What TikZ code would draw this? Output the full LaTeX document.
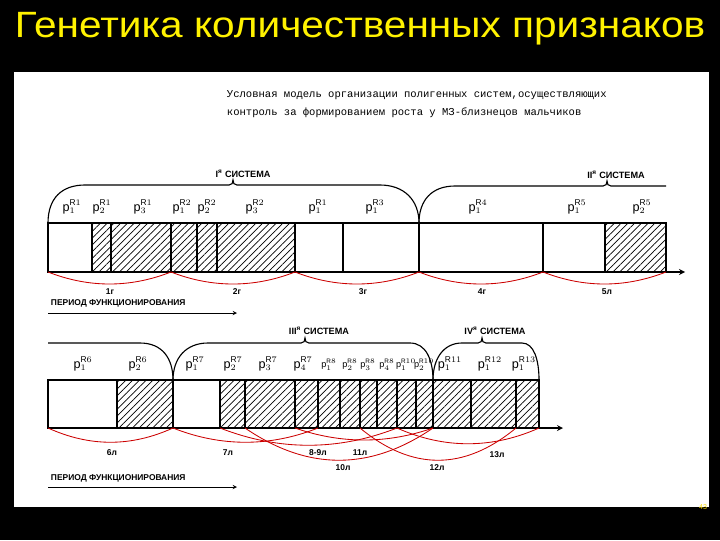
\documentclass[tikz,border=0pt]{standalone}
\usepackage{fontspec}
\setmainfont{Liberation Sans}
\newfontfamily\monofont{Liberation Mono}
\usetikzlibrary{patterns.meta}

\newcommand{\gen}[2]{$\mathrm{p}_{#1}^{\mathrm{R}#2}$}

\tikzset{
  bar/.style={draw, line width=0.9pt},
  hatch/.style={pattern={Lines[angle=45,distance=3.4pt,line width=0.5pt]}},
  arc/.style={red!80!black, line width=0.6pt},
  env/.style={line width=0.8pt},
  lab/.style={font=\bfseries\fontsize{6}{7}\selectfont},
  gene/.style={font=\fontsize{9}{10}\selectfont, inner sep=0pt},
  small gene/.style={font=\fontsize{6.5}{7}\selectfont, inner sep=0pt},
}

\begin{document}
\begin{tikzpicture}[x=0.025cm, y=-0.025cm, >=stealth]
  % Vẽ nền
  \fill[black] (0,0) rectangle (720,540);
  \fill[white] (14,72) rectangle (709,507);
  \node[yellow, font=\fontsize{26}{30}\selectfont] (title) at (360,29) {\scalebox{1.11}[1]{Генетика количественных признаков}};
  \node[yellow!80!orange, font=\fontsize{5}{6}\selectfont] (num) at (703,507) {43};
  \node[anchor=west, font=\monofont\fontsize{7.5}{9}\selectfont] (cap1) at (222,95) {Условная модель организации полигенных систем,осуществляющих};
  \node[anchor=west, font=\monofont\fontsize{7.5}{9}\selectfont] (cap2) at (222,113) {контроль за формированием роста у МЗ-близнецов мальчиков};

  % Hàng 1
  \foreach \a/\b/\h in {48/92/0, 92/111/1, 111/171/1, 171/197/1, 197/217/1, 217/295/1,
                        295/343/0, 343/419/0, 419/543/0, 543/605/0, 605/666/1}{
    \ifnum\h=1 \fill[hatch] (\a,223) rectangle (\b,272); \fi
    \draw[bar] (\a,223) rectangle (\b,272);
  }
  \foreach \x in {48,171,295,419,543,666}
    \coordinate (u\x) at (\x,272);
  \coordinate (ax1) at (685,272);
  \draw[bar,->] (u48) -- (ax1);
  \foreach \p/\q in {u48/u171, u171/u295, u295/u419, u419/u543, u543/u666}
    \draw[arc] (\p) .. controls +(41,16) and +(-41,16) .. (\q);
  \foreach \x/\t [count=\i] in {110/1г, 237/2г, 363/3г, 482/4г, 607/5л}
    \node[lab] (y\i) at (\x,292) {\t};
  \foreach \x/\s/\r [count=\i] in {72/1/1, 102/2/1, 143/3/1, 182/1/2, 207/2/2, 255/3/2,
                                   318/1/1, 375/1/3, 478/1/4, 577/1/5, 642/2/5}
    \node[gene] (g\i) at (\x,207) {\gen{\s}{\r}};
  % Hệ thống I, II
  \draw[env] (48,223) .. controls (48,198) and (62,185) .. (85,185) -- (229,185)
    .. controls (232,185) and (233,183) .. (233,180) .. controls (233,183) and (234,185) .. (237,185)
    -- (380,185) .. controls (404,185) and (419,200) .. (419,223);
  \draw[env] (419,223) .. controls (419,200) and (432,186) .. (455,186) -- (603,186)
    .. controls (606,186) and (607,184) .. (607,181) .. controls (607,184) and (608,186) .. (611,186)
    -- (666,186);
  \node[lab, font=\bfseries\fontsize{6.5}{7}\selectfont] (sys1) at (243,174) {I\textsuperscript{я} СИСТЕМА};
  \node[lab, font=\bfseries\fontsize{6.5}{7}\selectfont] (sys2) at (616,175) {II\textsuperscript{я} СИСТЕМА};
  \node[lab, anchor=west] (per1) at (46,303) {ПЕРИОД ФУНКЦИОНИРОВАНИЯ};
  \coordinate (ps1) at (48,313);
  \coordinate (pe1) at (237,313);
  \draw[->] (ps1) -- (pe1);

  % Hàng 2
  \foreach \a/\b/\h in {48/117/0, 117/173/1, 173/220/0, 220/245/1, 245/295/1, 295/318/1,
                        318/340/1, 340/360/1, 360/377/1, 377/397/1, 397/416/1, 416/433/1,
                        433/471/1, 471/516/1, 516/539/1}{
    \ifnum\h=1 \fill[hatch] (\a,380) rectangle (\b,428); \fi
    \draw[bar] (\a,380) rectangle (\b,428);
  }
  \foreach \x in {48,173,220,245,295,318,360,397,433,516,539}
    \coordinate (w\x) at (\x,428);
  \coordinate (ax2) at (563,428);
  \draw[bar,->] (w48) -- (ax2);
  \foreach \p/\q/\s/\h in {w48/w173/42/19, w173/w318/48/19, w220/w397/59/23, w245/w433/63/43,
                           w295/w433/46/16, w360/w516/52/43, w397/w539/47/21}
    \draw[arc] (\p) .. controls +(\s,\h) and +(-\s,\h) .. (\q);
  \foreach \x/\y/\t [count=\i] in {112/453/6л, 228/453/7л, 318/453/8-9л, 343/468/10л,
                                   360/453/11л, 437/468/12л, 497/455/13л}
    \node[lab] (z\i) at (\x,\y) {\t};
  \foreach \x/\s/\r [count=\i] in {83/1/6, 138/2/6, 195/1/7, 233/2/7, 268/3/7, 303/4/7,
                                   450/1/11, 490/1/12, 524/1/13}
    \node[gene] (h\i) at (\x,364) {\gen{\s}{\r}};
  \foreach \x/\s/\r [count=\i] in {329/1/8, 350/2/8, 368/3/8, 387/4/8, 406/1/10, 424/2/10}
    \node[small gene] (k\i) at (\x,365) {\gen{\s}{\r}};
  % Hệ thống III, IV
  \draw[env] (48,343) -- (140,343) .. controls (162,343) and (173,358) .. (173,380);
  \draw[env] (173,380) .. controls (173,358) and (186,343) .. (208,343) -- (301,343)
    .. controls (304,343) and (305,341) .. (305,338) .. controls (305,341) and (306,343) .. (309,343)
    -- (410,343) .. controls (426,343) and (433,360) .. (433,380);
  \draw[env] (433,380) .. controls (433,358) and (444,343) .. (462,343) -- (478,343)
    .. controls (481,343) and (482,341) .. (482,338) .. controls (482,341) and (483,343) .. (486,343)
    -- (522,343) .. controls (534,343) and (539,360) .. (539,380);
  \node[lab, font=\bfseries\fontsize{6.5}{7}\selectfont] (sys3) at (319,331) {III\textsuperscript{я} СИСТЕМА};
  \node[lab, font=\bfseries\fontsize{6.5}{7}\selectfont] (sys4) at (495,331) {IV\textsuperscript{я} СИСТЕМА};
  \node[lab, anchor=west] (per2) at (46,478) {ПЕРИОД ФУНКЦИОНИРОВАНИЯ};
  \coordinate (ps2) at (48,487);
  \coordinate (pe2) at (237,487);
  \draw[->] (ps2) -- (pe2);
\end{tikzpicture}
\end{document}
